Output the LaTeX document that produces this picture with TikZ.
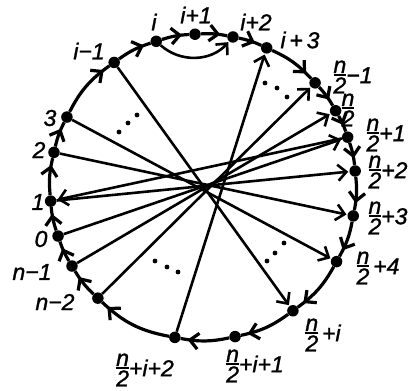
\documentclass[tikz,border=0pt]{standalone}
\usepackage{amsmath}
\usepackage{fontspec}
\setmainfont{Liberation Sans}[ItalicFeatures={FakeBold=1.2}]
\usepackage{tikz}
\usetikzlibrary{arrows.meta,decorations.markings}
\newcommand{\nh}{\ensuremath{\vcenter{\offinterlineskip
  \halign{\hfil##\hfil\cr n\cr\noalign{\kern1.5pt\hrule height 1.4pt\kern1.5pt}2\cr}}}}
\tikzset{
  vtx/.style={circle, fill=black, inner sep=0pt, minimum size=11.5pt},
  lbl/.style={font=\fontsize{23}{27}\selectfont\itshape, inner sep=0pt},
  rim/.style={line width=3.2pt, postaction={decorate},
              decoration={markings, mark=at position -7pt with {\arrow{Straight Barb[length=8.5pt, width=16pt]}}}},
  chord/.style={line width=2.6pt, -{Straight Barb[length=8.5pt, width=16pt]}, shorten >=1pt},
}
\begin{document}
\begin{tikzpicture}[x=1pt, y=1pt]
  \useasboundingbox (0,0) rectangle (419,390);
  \begin{scope}[shift={(203,203)}]
    \foreach \nm/\ang in {ii/107.8, ip1/93.0, ip2/78.7, ip3/65.4, hm1/42.9, h0/29.9,
                          h1/19.0, h2/6.0, h3/-10.9, h4/-29.2, hi/-54.0, hi1/-77.9,
                          hi2/-100.6, nm2/226.6, nm1/211.1, n0/198.7, n1/185.3,
                          n2/166.9, n3/152.8, im1/125.5}
      \node[vtx] (\nm) at (\ang:153) {};
  \end{scope}

  % rim of the circle
  \foreach \a/\b/\t in {nm2/nm1/7.75, nm1/n0/6.2, n0/n1/6.7, n1/n2/9.2, n2/n3/7.05,
                        n3/im1/13.65, im1/ii/8.85, ii/ip1/7.4, ip1/ip2/7.15, ip2/ip3/6.65,
                        ip3/hm1/11.25, hm1/h0/6.5, h0/h1/5.45, h1/h2/6.5, h2/h3/8.45,
                        h3/h4/9.15, h4/hi/12.4, hi/hi1/11.95, hi1/hi2/11.35, hi2/nm2/16.4}
    \draw[rim] (\a) to[bend left=\t] (\b);

  % chords
  \foreach \a/\b in {im1/hi, n3/h4, n2/h3, n1/h2, h1/n1, n0/h1, nm1/h0, nm2/hm1, hi2/ip3}
    \draw[chord] (\a) -- (\b);
  \draw[chord] (ii) to[bend right=45] (ip2);

  % dots
  \foreach \p in {{119,258}, {128,267}, {137,275}, {265,307}, {277,302}, {287,293},
                  {155,129}, {167,123}, {178,118}, {267,129}, {275,137}, {284,147}}
    \fill (\p) circle (2.4);

  % labels
  \node[lbl] (lii)  at (154,368) {i};
  \node[lbl] (lip1) at (196,375) {i+1};
  \node[lbl] (lip2) at (256,368) {i+2};
  \node[lbl] (lip3) at (300,350) {i\,+\,3};
  \node[lbl] (lhm1) at (353,313) {\nh−1};
  \node[lbl] (lh0)  at (348,280) {\nh};
  \node[lbl] (lh1)  at (386,255) {\nh+1};
  \node[lbl] (lh2)  at (388,218) {\nh+2};
  \node[lbl] (lh3)  at (388,172) {\nh+3};
  \node[lbl] (lh4)  at (378,122) {\nh\,+4};
  \node[lbl] (lhi)  at (323,55)  {\nh\,+i};
  \node[lbl] (lhi1) at (255,24)  {\nh+i+1};
  \node[lbl] (lhi2) at (145,20)  {\nh+i+2};
  \node[lbl] (lnm2) at (55,88)   {n−2};
  \node[lbl] (lnm1) at (32,118)  {n−1};
  \node[lbl] (ln0)  at (41,151)  {0};
  \node[lbl] (ln1)  at (38,188)  {1};
  \node[lbl] (ln2)  at (39,240)  {2};
  \node[lbl] (ln3)  at (50,272)  {3};
  \node[lbl] (lim1) at (89,339)  {i−1};
\end{tikzpicture}
\end{document}
